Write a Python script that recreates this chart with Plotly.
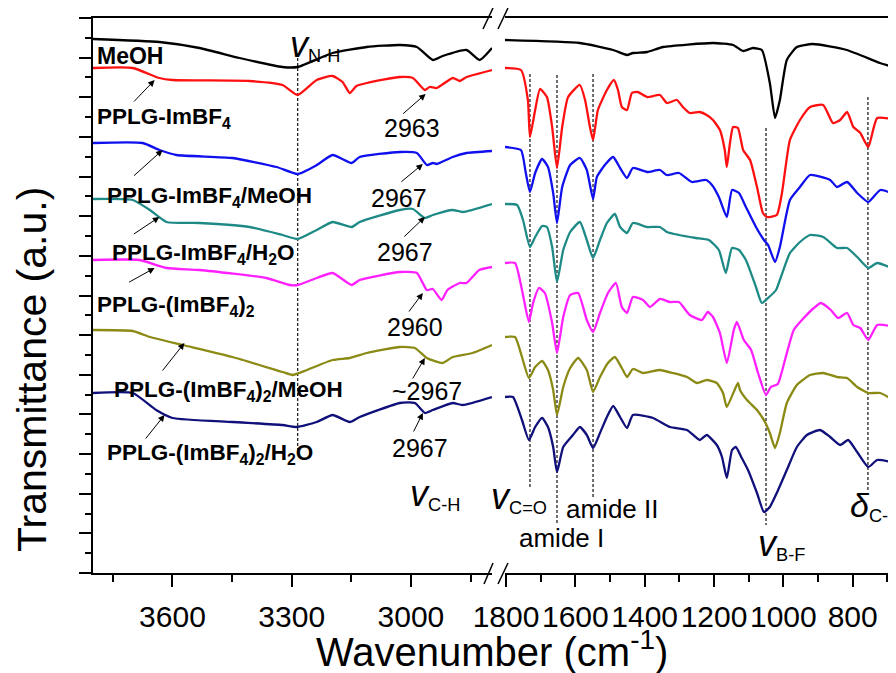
import plotly.graph_objects as go

# ---------------- data (wavenumber in cm^-1, transmittance in a.u.) ----------------
meoh_hi_w = [3800, 3633, 3532, 3431, 3323, 3285, 3197, 3111, 3028, 2985, 2945, 2920, 2860, 2827, 2796]
meoh_hi_t = [534, 531, 525, 515, 506, 506, 520, 526, 528, 526, 513, 517, 523, 513, 525]
meoh_lo_w = [1803, 1587, 1491, 1451, 1434, 1393, 1347, 1203, 1145, 1116, 1088, 1062, 1039, 1024, 1010, 990, 961, 915, 817, 721, 675]
meoh_lo_t = [533, 530, 523, 518, 520, 521, 526, 530, 528, 522, 525, 523, 490, 455, 473, 513, 526, 529, 523, 510, 505]

imbf4_hi_w = [3800, 3700, 3633, 3600, 3406, 3323, 3285, 3237, 3197, 3172, 3154, 3137, 3111, 3028, 2995, 2965, 2953, 2935, 2895, 2877, 2860, 2796]
imbf4_hi_t = [505, 505, 495, 493, 492, 488, 478, 493, 497, 491, 480, 487, 490, 496, 495, 483, 486, 485, 495, 492, 496, 503]
imbf4_lo_w = [1803, 1757, 1737, 1731, 1716, 1702, 1682, 1667, 1653, 1638, 1621, 1587, 1572, 1558, 1549, 1535, 1509, 1489, 1477, 1466,
              1451, 1437, 1420, 1393, 1356, 1336, 1307, 1290, 1270, 1241, 1221, 1203, 1183, 1169, 1163, 1154, 1145, 1131, 1116, 1096,
              1076, 1059, 1047, 1019, 1004, 981, 952, 923, 885, 857, 836, 816, 798, 778, 755, 729, 675]
imbf4_lo_t = [505, 503, 473, 436, 463, 484, 476, 446, 405, 446, 476, 488, 473, 446, 433, 463, 483, 493, 483, 466,
              463, 480, 481, 476, 478, 470, 473, 466, 460, 461, 458, 453, 443, 423, 406, 430, 446, 445, 423, 413,
              386, 360, 356, 358, 380, 433, 453, 466, 468, 450, 453, 461, 446, 440, 426, 455, 453]

imbf4_meoh_hi_w = [3800, 3675, 3633, 3590, 3449, 3338, 3285, 3237, 3197, 3149, 3129, 3028, 2985, 2960, 2945, 2935, 2895, 2860, 2796]
imbf4_meoh_hi_t = [430, 430, 423, 418, 415, 406, 399, 408, 418, 410, 416, 421, 420, 408, 410, 409, 416, 420, 422]
imbf4_meoh_lo_w = [1803, 1757, 1743, 1731, 1716, 1696, 1679, 1664, 1653, 1638, 1615, 1587, 1567, 1549, 1538, 1515, 1491, 1471, 1451, 1434,
                   1393, 1356, 1336, 1301, 1264, 1223, 1206, 1186, 1163, 1148, 1128, 1108, 1079, 1056, 1044, 1024, 1010, 981, 952, 923,
                   865, 845, 816, 787, 755, 720, 675]
imbf4_meoh_lo_t = [426, 423, 400, 381, 400, 414, 406, 380, 350, 386, 408, 415, 403, 374, 396, 408, 416, 405, 395, 405,
                   401, 403, 398, 400, 391, 393, 388, 376, 356, 383, 380, 366, 346, 333, 328, 311, 326, 373, 386, 398,
                   393, 386, 391, 380, 371, 383, 378]

imbf4_h2o_hi_w = [3800, 3700, 3657, 3615, 3532, 3406, 3323, 3285, 3237, 3197, 3149, 3129, 3028, 2995, 2965, 2945, 2895, 2870, 2796]
imbf4_h2o_hi_t = [374, 373, 363, 351, 350, 346, 338, 334, 343, 351, 346, 351, 363, 364, 355, 358, 363, 361, 369]
imbf4_h2o_lo_w = [1803, 1768, 1751, 1731, 1716, 1696, 1682, 1667, 1653, 1635, 1615, 1587, 1567, 1549, 1529, 1509, 1486, 1471, 1451, 1434,
                  1393, 1356, 1336, 1301, 1252, 1215, 1186, 1166, 1148, 1128, 1108, 1079, 1062, 1041, 1021, 1007, 981, 952, 923, 885,
                  845, 816, 787, 755, 729, 675]
imbf4_h2o_lo_t = [369, 368, 353, 326, 336, 347, 346, 326, 291, 323, 341, 351, 333, 315, 333, 350, 359, 346, 340, 350,
                  346, 346, 341, 338, 335, 333, 323, 300, 325, 323, 313, 286, 270, 276, 283, 296, 320, 331, 338, 336,
                  325, 325, 316, 305, 310, 303]

imbf4x2_hi_w = [3800, 3683, 3615, 3532, 3364, 3305, 3285, 3237, 3197, 3149, 3129, 3028, 2985, 2960, 2945, 2923, 2908, 2877, 2860, 2828, 2796]
imbf4x2_hi_t = [313, 313, 305, 303, 295, 288, 288, 295, 300, 288, 293, 301, 300, 283, 284, 273, 283, 290, 290, 303, 306]
imbf4x2_lo_w = [1803, 1774, 1754, 1734, 1722, 1705, 1688, 1667, 1653, 1635, 1615, 1592, 1567, 1549, 1529, 1506, 1483, 1466, 1451, 1434,
                1405, 1385, 1356, 1327, 1301, 1270, 1235, 1218, 1203, 1183, 1163, 1143, 1134, 1114, 1093, 1073, 1050, 1036, 1016, 993,
                970, 941, 912, 892, 863, 842, 816, 798, 778, 755, 729, 675]
imbf4x2_lo_t = [310, 310, 283, 251, 270, 285, 280, 250, 220, 256, 278, 280, 253, 241, 260, 280, 290, 266, 260, 276,
                273, 266, 274, 271, 271, 258, 253, 261, 256, 240, 210, 243, 251, 233, 223, 200, 178, 186, 189, 216,
                243, 255, 265, 270, 263, 255, 260, 248, 245, 233, 248, 246]

imbf4x2_meoh_hi_w = [3800, 3700, 3657, 3574, 3449, 3323, 3298, 3262, 3197, 3154, 3111, 3028, 2990, 2960, 2920, 2895, 2845, 2796]
imbf4x2_meoh_hi_t = [243, 242, 236, 228, 216, 201, 198, 203, 213, 215, 220, 226, 225, 215, 210, 216, 220, 228]
imbf4x2_meoh_lo_w = [1803, 1774, 1754, 1734, 1716, 1696, 1679, 1664, 1653, 1635, 1615, 1592, 1567, 1549, 1529, 1506, 1486, 1466, 1451, 1434,
                     1405, 1356, 1319, 1278, 1249, 1221, 1192, 1174, 1163, 1131, 1125, 1105, 1076, 1053, 1039, 1024, 1010, 990, 961, 923,
                     885, 845, 816, 787, 755, 720, 675]
imbf4x2_meoh_lo_t = [236, 236, 216, 195, 206, 212, 203, 183, 158, 186, 205, 215, 203, 181, 196, 210, 216, 205, 196, 204,
                     200, 203, 200, 196, 190, 193, 190, 180, 166, 190, 183, 173, 163, 151, 140, 125, 140, 170, 188, 198,
                     200, 196, 195, 186, 180, 180, 171]

imbf4x2_h2o_hi_w = [3800, 3700, 3641, 3600, 3449, 3323, 3288, 3237, 3197, 3154, 3129, 3028, 2990, 2965, 2945, 2895, 2870, 2796]
imbf4x2_h2o_hi_t = [180, 180, 163, 155, 151, 148, 146, 151, 158, 151, 156, 170, 170, 160, 163, 170, 168, 176]
imbf4x2_h2o_lo_w = [1803, 1780, 1754, 1734, 1716, 1696, 1679, 1664, 1653, 1635, 1607, 1587, 1567, 1549, 1529, 1509, 1491, 1471, 1451, 1434,
                    1376, 1327, 1278, 1241, 1221, 1192, 1177, 1163, 1148, 1137, 1120, 1102, 1076, 1056, 1039, 1019, 990, 961, 932, 894,
                    865, 836, 813, 787, 755, 729, 675]
imbf4x2_h2o_lo_t = [176, 176, 153, 133, 146, 155, 146, 126, 101, 126, 138, 146, 138, 125, 140, 156, 167, 156, 145, 158,
                    155, 146, 143, 133, 138, 128, 116, 95, 123, 126, 115, 103, 80, 61, 66, 80, 103, 126, 138, 143,
                    136, 128, 133, 121, 106, 113, 110]

# band marker lines: position, top, bottom (a.u.)
band_hi_w = [3285]
band_hi_top = [520]
band_hi_bot = [123]
band_lo_w = [1731, 1653, 1549, 1050, 756]
band_lo_top = [499, 498, 499, 445, 476]
band_lo_bot = [86, 50, 75, 48, 83]

# axis ticks
hi_major = [3600, 3300, 3000]
hi_minor = [3750, 3450, 3150, 2850]
lo_major = [1800, 1600, 1400, 1200, 1000, 800]
lo_minor = [1700, 1500, 1300, 1100, 900, 700]

# ---------------- geometry (page body has an 8 px margin) ----------------
OFF = 8
W, H = 896 - OFF, 673 - OFF
L, T = 93 - OFF, 18 - OFF
B = H - (573 - OFF)
R = 0
PW = W - L - R
PH = H - T - B
YMAX = 555.0


def px(x):  # x in window pixels -> paper
    return (x - 93) / PW


def py(y):  # y in window pixels -> paper
    return (573 - y) / PH


FONT = "Liberation Sans, Arial, sans-serif"

series = [
    ("MeOH", "#000000", meoh_hi_w, meoh_hi_t, meoh_lo_w, meoh_lo_t),
    ("PPLG-ImBF4", "#ff1010", imbf4_hi_w, imbf4_hi_t, imbf4_lo_w, imbf4_lo_t),
    ("PPLG-ImBF4/MeOH", "#1010ee", imbf4_meoh_hi_w, imbf4_meoh_hi_t, imbf4_meoh_lo_w, imbf4_meoh_lo_t),
    ("PPLG-ImBF4/H2O", "#1e8a86", imbf4_h2o_hi_w, imbf4_h2o_hi_t, imbf4_h2o_lo_w, imbf4_h2o_lo_t),
    ("PPLG-(ImBF4)2", "#ff20ff", imbf4x2_hi_w, imbf4x2_hi_t, imbf4x2_lo_w, imbf4x2_lo_t),
    ("PPLG-(ImBF4)2/MeOH", "#8a8a14", imbf4x2_meoh_hi_w, imbf4x2_meoh_hi_t, imbf4x2_meoh_lo_w, imbf4x2_meoh_lo_t),
    ("PPLG-(ImBF4)2/H2O", "#10107a", imbf4x2_h2o_hi_w, imbf4x2_h2o_hi_t, imbf4x2_h2o_lo_w, imbf4x2_h2o_lo_t),
]

fig = go.Figure()

dash_style = dict(color="#222222", width=1.3, dash="3px,2px")
for w, t0, t1 in zip(band_hi_w, band_hi_top, band_hi_bot):
    fig.add_trace(go.Scatter(x=[w, w], y=[t0, t1], xaxis="x", yaxis="y", mode="lines",
                             line=dash_style, showlegend=False, hoverinfo="skip"))
for w, t0, t1 in zip(band_lo_w, band_lo_top, band_lo_bot):
    fig.add_trace(go.Scatter(x=[w, w], y=[t0, t1], xaxis="x2", yaxis="y", mode="lines",
                             line=dash_style, showlegend=False, hoverinfo="skip"))

for name, color, wh, th, wl, tl in series:
    ln = dict(color=color, width=2.3, shape="spline", smoothing=0.5)
    fig.add_trace(go.Scatter(x=wh, y=th, xaxis="x", yaxis="y", mode="lines", line=ln,
                             name=name, showlegend=False, hoverinfo="skip"))
    fig.add_trace(go.Scatter(x=wl, y=tl, xaxis="x2", yaxis="y", mode="lines", line=ln,
                             name=name, showlegend=False, hoverinfo="skip"))

axis_common = dict(showline=True, linecolor="black", linewidth=1.5, mirror=True,
                   ticks="outside", ticklen=12, tickwidth=1.5, tickcolor="black",
                   showgrid=False, zeroline=False, anchor="y", automargin=False,
                   ticklabelstandoff=4,
                   tickfont=dict(family=FONT, size=30, color="black"))

annotations = []


def text(s, x, y, size, bold=False, xanchor="left", yanchor="middle", angle=0):
    annotations.append(dict(text=("<b>%s</b>" % s) if bold else s, x=px(x), y=py(y),
                            xref="paper", yref="paper", xanchor=xanchor, yanchor=yanchor,
                            showarrow=False, textangle=angle, borderpad=0,
                            font=dict(family=FONT, size=size, color="black")))


# sample labels
text("MeOH", 96, 56, 23, bold=True)
text("PPLG-ImBF<sub>4</sub>", 96, 118, 22.5, bold=True)
text("PPLG-ImBF<sub>4</sub>/MeOH", 106, 197, 22.5, bold=True)
text("PPLG-ImBF<sub>4</sub>/H<sub>2</sub>O", 111, 254, 22.5, bold=True)
text("PPLG-(ImBF<sub>4</sub>)<sub>2</sub>", 96, 306, 22.5, bold=True)
text("PPLG-(ImBF<sub>4</sub>)<sub>2</sub>/MeOH", 113, 391, 22.5, bold=True)
text("PPLG-(ImBF<sub>4</sub>)<sub>2</sub>/H<sub>2</sub>O", 106, 454, 22.5, bold=True)

# C-H band values
text("2963", 383, 128, 25)
text("2967", 370, 198, 25)
text("2967", 376, 252, 25)
text("2960", 386, 327, 25)
text("~2967", 391, 391, 25)
text("2967", 391, 448, 25)

# band assignments
vsp = "<i><span style='font-size:36px'>v</span></i>"
text(vsp + "<sub>N-H</sub>", 289, 45, 26)
text(vsp + "<sub>C-H</sub>", 409, 494, 26)
text(vsp + "<sub>C=O</sub>", 490, 497, 26)
text(vsp + "<sub>B-F</sub>", 757, 544, 26)
text("<i><span style='font-size:34px'>δ</span></i><sub>C-H</sub>", 849, 506, 26)
text("amide I", 518, 538, 26)
text("amide II", 565, 509, 26)

# axis titles
text("Wavenumber (cm<sup>-1</sup>)", 492, 649, 40, xanchor="center")
text("Transmittance (a.u.)", 32, 370, 41, xanchor="center", angle=-90)

# arrows: head (wavenumber, a.u.) and tail offset in px
arrows = [
    (3645, 493, -22, 23), (3625, 423, -30, 27), (3633, 356, -27, 18),
    (3645, 305, -27, 15), (3570, 230, -23, 29), (3620, 158, -20, 25),
    (2963, 479, -24, 21), (2970, 409, -23, 19), (2965, 356, -22, 21),
    (2970, 280, -15, 20), (2965, 215, -13, 22), (2970, 160, -10, 20),
]
for xw, yt, axp, ayp in arrows:
    annotations.append(dict(x=xw, y=yt, xref="x", yref="y", ax=axp, ay=ayp, text="",
                            showarrow=True, arrowhead=2, arrowsize=1.3, arrowwidth=1,
                            arrowcolor="black"))

# axis-break marks
shapes = []
for (x0, y0, x1, y1) in [(484, 584, 493, 563), (498, 584, 508, 563),
                         (483, 29, 493, 8), (498, 29, 508, 8)]:
    shapes.append(dict(type="line", xref="paper", yref="paper",
                       x0=px(x0), y0=py(y0), x1=px(x1), y1=py(y1),
                       line=dict(color="black", width=1.5)))

fig.update_layout(
    width=W, height=H,
    margin=dict(l=L, r=R, t=T, b=B, autoexpand=False),
    paper_bgcolor="white", plot_bgcolor="white",
    showlegend=False,
    xaxis=dict(domain=[0, px(492)], range=[3800, 2796],
               tickmode="array", tickvals=hi_major, ticktext=[str(v) for v in hi_major],
               minor=dict(tickmode="array", tickvals=hi_minor, ticks="outside", ticklen=7,
                          tickwidth=1.5, tickcolor="black"),
               **axis_common),
    xaxis2=dict(domain=[px(505), 1], range=[1803, 675],
                tickmode="array", tickvals=lo_major, ticktext=[str(v) for v in lo_major],
                minor=dict(tickmode="array", tickvals=lo_minor, ticks="outside", ticklen=7,
                           tickwidth=1.5, tickcolor="black"),
                **axis_common),
    yaxis=dict(domain=[0, 1], range=[0, YMAX], showline=True, linecolor="black", linewidth=1.5,
               ticks="outside", ticklen=12, tickwidth=1.5, tickcolor="black",
               tickmode="array", tickvals=[k * YMAX / 14 for k in range(15)],
               showticklabels=False, showgrid=False, zeroline=False, anchor="x", automargin=False,
               minor=dict(tickmode="array", tickvals=[(2 * k + 1) * YMAX / 28 for k in range(14)],
                          ticks="outside", ticklen=6, tickwidth=1.5, tickcolor="black")),
    annotations=annotations,
    shapes=shapes,
)

fig.write_html("out.html")
